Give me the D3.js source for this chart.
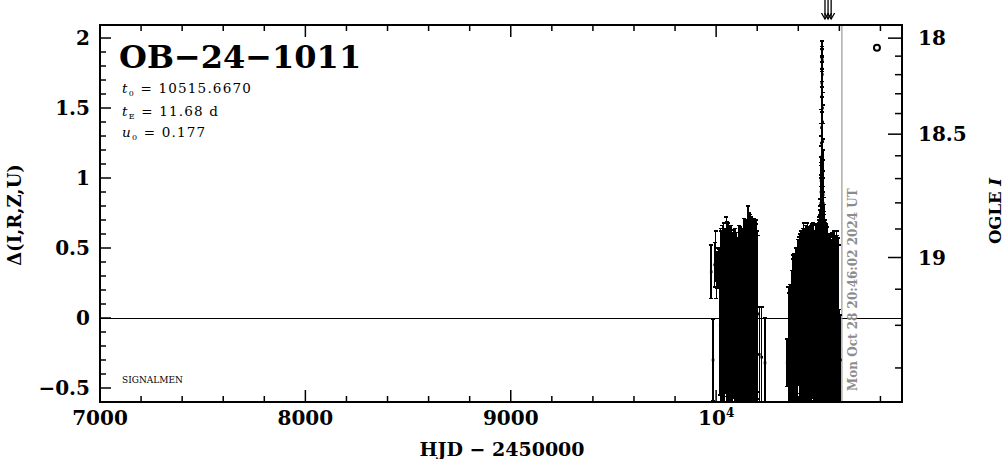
<!DOCTYPE html>
<html><head><meta charset="utf-8">
<script src="https://cdn.jsdelivr.net/npm/d3@7"></script>
<style>
html,body{margin:0;padding:0;background:#fff;}
svg{display:block;}
text{font-family:"DejaVu Serif",serif;}
</style></head>
<body>
<svg id="c" width="1004" height="459"></svg>
<script>
// ---- data ----
const season1Hjd = [9976,9985,9993,9997,10001,10006,10011,10016,10020,10022,10025,10027,10030,10033,10036,10038,10041,10044,10047,10050,10053,10055,10058,10061,10064,10067,10070,10073,10076,10079,10082,10085,10088,10091,10094,10097,10100,10103,10106,10109,10112,10115,10118,10121,10124,10127,10130,10133,10136,10139,10142,10145,10148,10151,10154,10157,10160,10163,10166,10169,10172,10175,10178,10181,10184,10187,10190,10193,10196,10199,10202,10210,10222,10238];
const season1Delta = [0.33,-0.30,0.38,0.44,0.30,0.34,0.36,0.35,-0.05,0.02,-0.08,0.04,0.00,0.06,-0.02,0.08,-0.04,0.05,0.00,0.08,-0.03,0.02,-0.06,0.04,0.01,-0.04,0.03,-0.02,0.05,-0.05,0.00,0.03,-0.04,0.02,-0.02,0.04,-0.03,0.01,-0.05,0.03,0.00,-0.03,0.05,0.06,-0.02,0.04,0.00,-0.04,0.03,-0.03,0.05,0.00,-0.05,0.02,0.06,-0.02,0.03,-0.01,0.04,-0.03,0.02,0.05,-0.04,0.01,0.03,-0.02,0.00,0.04,-0.05,0.02,0.03,-0.26,-0.28,-0.32];
const season1Err = [0.19,0.29,0.16,0.18,0.16,0.13,0.14,0.14,
  0.50,0.62,0.70,0.48,0.66,0.56,0.70,0.52,0.68,0.58,
  0.54,0.64,0.72,0.58,0.74,0.56,0.52,0.70,0.60,0.68,
  0.50,0.66,0.56,0.60,0.52,0.62,0.58,0.50,0.64,0.54,
  0.62,0.52,0.66,0.56,0.60,0.48,0.66,0.58,0.64,0.52,
  0.68,0.60,0.62,0.70,0.60,0.66,0.74,0.64,0.72,0.62,
  0.70,0.75,0.60,0.66,0.72,0.64,0.68,0.70,0.58,0.66,
  0.72,0.60,0.56,0.34,0.36,0.32];

const season2Hjd = [10346,10352,10356,10360,10364,10368,10372,10375,10378,10381,10384,10387,10390,10393,10396,10399,10402,10405,10408,10411,10414,10417,10420,10423,10426,10429,10432,10435,10438,10441,10444,10447,10450,10453,10456,10459,10462,10465,10468,10471,10474,10477,10480,10483,10486,10489,10492,10495,10500,10504,10508,10512,10516,10520,10524,10528,10532,10536,10539,10542,10545,10548,10551,10554,10557,10560,10563,10566,10569,10572,10575,10578,10581,10584,10587,10590,10593,10596,10600,10605];
const season2Delta = [-0.32,-0.20,-0.22,-0.18,-0.20,-0.14,-0.10,-0.08,-0.12,-0.06,-0.10,-0.04,-0.08,0.00,-0.05,0.04,0.06,0.02,-0.02,0.03,-0.04,0.02,-0.03,0.04,-0.02,0.03,-0.04,0.02,-0.03,0.05,-0.02,0.03,-0.05,0.02,-0.02,0.04,0.00,-0.03,0.02,0.05,-0.04,0.01,0.03,-0.02,0.00,0.04,-0.03,0.02,0.02,-0.03,0.01,0.00,-0.02,0.03,0.00,-0.04,0.03,-0.02,0.02,-0.05,0.01,-0.03,0.04,-0.02,0.02,-0.04,0.01,-0.03,0.03,0.00,-0.02,0.04,-0.01,0.02,-0.04,0.01,-0.03,0.00,-0.28,-0.30];
const season2Err = [0.17,0.42,0.40,0.42,0.40,0.48,0.52,0.53,0.56,0.52,
  0.55,0.46,0.58,0.47,0.55,0.52,0.44,0.56,0.62,0.50,
  0.66,0.56,0.62,0.60,0.70,0.52,0.68,0.64,0.58,0.60,
  0.70,0.56,0.70,0.62,0.58,0.56,0.66,0.70,0.54,0.62,
  0.72,0.60,0.56,0.68,0.62,0.58,0.70,0.64,0.66,0.64,
  0.66,0.65,0.66,0.62,0.64,0.72,0.58,0.68,0.54,0.70,
  0.58,0.63,0.50,0.62,0.56,0.60,0.53,0.64,0.56,0.58,
  0.64,0.50,0.60,0.54,0.66,0.58,0.60,0.52,0.34,0.32];

const eventHjd = [10496,10498,10499,10501,10502,10503,10504,10505,10506,10507,10508,10509,10510,10510.5,10511,10512,10512.5,10513,10514,10514.5,10515,10515.5,10516,10516.5,10517,10518,10518.5,10519,10520,10521,10521.5,10522,10523,10524,10525,10526,10528,10529,10531,10534];
const eventDelta = [0.10,0.14,0.18,0.22,0.25,0.30,0.33,0.38,0.45,0.52,0.60,0.72,0.82,0.90,0.98,1.15,1.25,1.36,1.58,1.68,1.78,1.86,1.92,1.84,1.74,1.50,1.40,1.26,1.05,0.88,0.82,0.74,0.64,0.56,0.48,0.42,0.30,0.26,0.20,0.12];
const eventErr = [0.55,0.52,0.50,0.46,0.45,0.42,0.40,0.36,0.32,0.28,0.25,0.22,0.20,0.19,0.17,0.15,0.14,0.13,0.11,0.10,0.09,0.08,0.06,0.08,0.09,0.11,0.12,0.13,0.15,0.17,0.18,0.20,0.22,0.25,0.28,0.32,0.40,0.44,0.48,0.55];

const eventName = "OB\u221224\u22121011";
const fitParams = [["t","0"," = 10515.6670"],["t","E"," = 11.68 d"],["u","0"," = 0.177"]];
const xMajorTicks = [7000,8000,9000,10000];
const yMajorTicks = [-0.5,0,0.5,1,1.5,2];
const yTickLabels = ["\u22120.5","0","0.5","1","1.5","2"];
const magTicks = [18.0,18.1,18.2,18.3,18.4,18.5,18.6,18.7,18.8,18.9,19.0,19.1,19.2,19.3];
const magLabels = [18,18.5,19];
const arrowHjd = [10530,10545,10560];
const markerPoint = [10783,1.93];
const nowHjd = 10612.37;
const nowText = "Mon Oct 28 20:46:02 2024 UT";
// blend model linking Δ (mag) to OGLE I (source / blend flux relative to I=18)
const fSource = 0.125, fBlend = 0.212;

// ---- drawing ----
const svg = d3.select("#c");
const L=100,R=902,T=25,B=402;
const x = d3.scaleLinear().domain([7000,10905]).range([L,R]);
const y = d3.scaleLinear().domain([-0.6,2.093]).range([B,T]);
const deltaOfMag = m => 2.5*Math.log10((Math.pow(10,-0.4*(m-18))-fBlend)/fSource);

svg.append("defs").append("clipPath").attr("id","pc").append("rect")
  .attr("x",L).attr("y",T).attr("width",R-L).attr("height",B-T);

const plot = svg.append("g").attr("clip-path","url(#pc)");

// zero line
plot.append("line").attr("x1",L).attr("x2",R).attr("y1",y(0)+0.5).attr("y2",y(0)+0.5)
  .attr("stroke","#000").attr("stroke-width",1).attr("shape-rendering","crispEdges");

// now line
plot.append("line").attr("x1",x(nowHjd)).attr("x2",x(nowHjd)).attr("y1",T).attr("y2",B)
  .attr("stroke","#999").attr("stroke-width",1.2);

function series(h,d,e){ return h.map((v,i)=>({t:v,d:d[i],e:e[i]})); }
const all = series(season1Hjd,season1Delta,season1Err)
  .concat(series(season2Hjd,season2Delta,season2Err))
  .concat(series(eventHjd,eventDelta,eventErr));

const g = plot.append("g").attr("stroke","#000").attr("stroke-width",1.5).attr("shape-rendering","crispEdges");
all.forEach(p=>{
  const cx=x(p.t), y1=y(p.d+p.e), y2=y(p.d-p.e);
  g.append("line").attr("x1",cx).attr("x2",cx).attr("y1",y1).attr("y2",y2);
  g.append("line").attr("x1",cx-2).attr("x2",cx+2).attr("y1",y1).attr("y2",y1);
  g.append("line").attr("x1",cx-2).attr("x2",cx+2).attr("y1",y2).attr("y2",y2);
});
plot.append("g").selectAll("rect").data(all).join("rect")
  .attr("x",p=>x(p.t)-1.3).attr("y",p=>y(p.d)-1.3).attr("width",2.6).attr("height",2.6).attr("fill","#000");

// marker circle
plot.append("circle").attr("cx",x(markerPoint[0])).attr("cy",y(markerPoint[1])).attr("r",3)
  .attr("fill","none").attr("stroke","#000").attr("stroke-width",2);

// frame
svg.append("rect").attr("x",L).attr("y",T).attr("width",R-L).attr("height",B-T)
  .attr("fill","none").attr("stroke","#000").attr("stroke-width",2);

// x ticks (bottom & top)
const xt = d3.range(7000,10901,200);
const tk = svg.append("g").attr("stroke","#000").attr("stroke-width",1.5);
xt.forEach(v=>{
  const len = (v%1000===0)?12:6;
  tk.append("line").attr("x1",x(v)).attr("x2",x(v)).attr("y1",B).attr("y2",B-len);
  tk.append("line").attr("x1",x(v)).attr("x2",x(v)).attr("y1",T).attr("y2",T+len);
});
// left y ticks
d3.range(-6,21).map(i=>i/10).forEach(v=>{
  const major = Math.abs(v*2-Math.round(v*2))<1e-6;
  tk.append("line").attr("x1",L).attr("x2",L+(major?11:6)).attr("y1",y(v)).attr("y2",y(v));
});
// right magnitude ticks
magTicks.forEach(m=>{
  const major = magLabels.some(l=>Math.abs(l-m)<1e-6);
  tk.append("line").attr("x1",R).attr("x2",R-(major?14:7)).attr("y1",y(deltaOfMag(m))).attr("y2",y(deltaOfMag(m)));
});

// x labels
xMajorTicks.forEach(v=>{
  const t = svg.append("text").attr("x",x(v)).attr("y",425).attr("text-anchor","middle")
    .attr("font-size",20).attr("font-weight","bold");
  if(v===10000){ t.text("10"); t.append("tspan").attr("font-size",12).attr("dy",-8).text("4"); }
  else t.text(v);
});
// y labels
yMajorTicks.forEach((v,i)=>{
  svg.append("text").attr("x",90).attr("y",y(v)).attr("dy","0.36em").attr("text-anchor","end")
    .attr("font-size",20).attr("font-weight","bold").text(yTickLabels[i]);
});
// right labels
magLabels.forEach(m=>{
  svg.append("text").attr("x",918).attr("y",y(deltaOfMag(m))).attr("dy","0.36em")
    .attr("font-size",20).attr("font-weight","bold").text(m);
});

// axis titles
svg.append("text").attr("x",502).attr("y",456).attr("text-anchor","middle")
  .attr("font-size",19).attr("font-weight","bold").text("HJD \u2212 2450000");
svg.append("text").attr("transform","translate(21,215) rotate(-90)").attr("text-anchor","middle")
  .attr("font-size",18).attr("font-weight","bold").text("\u0394(I,R,Z,U)");
const ol = svg.append("text").attr("transform","translate(1001,211) rotate(-90)").attr("text-anchor","middle")
  .attr("font-size",16.5).attr("font-weight","bold");
ol.append("tspan").text("OGLE ");
ol.append("tspan").attr("font-style","italic").text("I");

// title & params
svg.append("text").attr("x",119).attr("y",68).attr("font-size",32).attr("font-weight","bold").text(eventName);
fitParams.forEach((p,i)=>{
  const t = svg.append("text").attr("x",122).attr("y",[93,115.5,137][i]).attr("font-size",13.5)
    .attr("letter-spacing",1.2);
  t.append("tspan").attr("font-style","italic").text(p[0]);
  t.append("tspan").attr("font-size",8).attr("dy",3).text(p[1]);
  t.append("tspan").attr("dy",-3).text(p[2]);
});
svg.append("text").attr("x",122).attr("y",383).attr("font-size",9).text("SIGNALMEN");

// now text
svg.append("text").attr("transform",`translate(${x(nowHjd)+15},391) rotate(-90)`)
  .attr("font-size",12).attr("font-weight","bold").attr("fill","#8c8c8c").text(nowText);

// arrows
const ag = svg.append("g").attr("stroke","#000").attr("stroke-width",1.3).attr("fill","none");
arrowHjd.forEach(h=>{
  const ax=x(h);
  ag.append("line").attr("x1",ax).attr("x2",ax).attr("y1",0).attr("y2",19);
  ag.append("path").attr("d",`M${ax-3.5},13 L${ax},19 L${ax+3.5},13`);
});
</script>
</body></html>
